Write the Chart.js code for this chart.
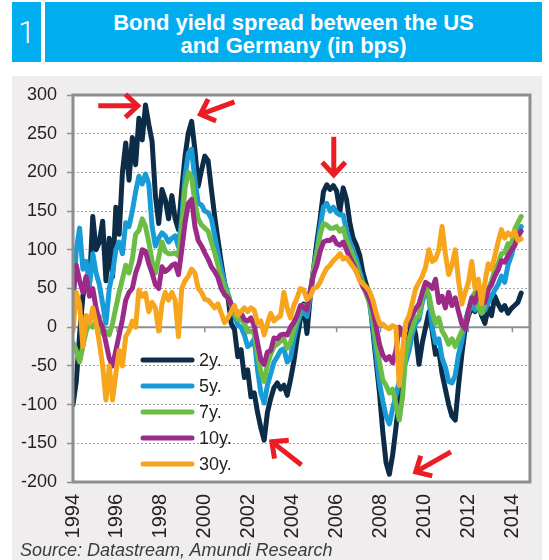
<!DOCTYPE html>
<html>
<head>
<meta charset="utf-8">
<title>Bond yield spread between the US and Germany</title>
<script src="https://cdn.jsdelivr.net/npm/chart.js@4.4.0/dist/chart.umd.min.js"></script>
<style>
  html, body { margin: 0; padding: 0; background: #fff; }
  body { width: 549px; height: 560px; position: relative; overflow: hidden; font-family: "Liberation Sans", Arial, sans-serif; }
  .hdr { position: absolute; top: 2px; height: 60px; background: #00aeef; color: #fff; }
  #num { left: 12px; width: 29px; font-family: Roboto, "Liberation Sans", sans-serif; font-weight: 300; font-size: 31px; line-height: 62px; text-align: center; }
  #title { left: 45px; width: 497px; font-weight: bold; font-size: 22px; line-height: 23px; text-align: center; box-sizing: border-box; padding-top: 9px; }
  #panel { position: absolute; left: 12px; top: 76px; width: 530px; height: 484px; background: #efedee; }
  #chart { position: absolute; left: 0; top: 0; }
  #source { position: absolute; left: 20px; top: 540px; font-style: italic; font-size: 18px; line-height: 20px; color: #3c3c3c; white-space: nowrap; }
</style>
</head>
<body>
<div class="hdr" id="num">1</div>
<div class="hdr" id="title">Bond yield spread between the US<br>and Germany (in bps)</div>
<div id="panel"></div>
<canvas id="chart" width="549" height="560"></canvas>
<div id="source">Source: Datastream, Amundi Research</div>
<script>
// spreads in bps, one reading every 0.15 year starting Jan 1994
const startYear = 1994;
const stepYears = 0.15;

const seriesNames = ['2y.', '5y.', '7y.', '10y.', '30y.'];
const seriesColours = ['#0c2c48', '#189bd6', '#6cbd45', '#9c2a89', '#f6a51c'];
const yearTicks = [1994, 1996, 1998, 2000, 2002, 2004, 2006, 2008, 2010, 2012, 2014];

const y2 = [
  -100, -70, -10, 40, 65, 55, 143, 100, 110, 137, 60, 115, 65, 155, 120, 200, 238, 190, 245, 210, 270, 242, 287, 262, 240, 170, 134, 178,
  165, 140, 170, 140, 126, 178, 221, 251, 266, 229, 182, 203, 221, 215, 178, 143, 113, 83, 57, 40, 5, -3, -38, -29, -65, -55, -90,
  -85, -110, -130, -146, -110, -92, -78, -72, -80, -75, -88, -68, -45, -15, 10, 30, -8, 40, 75, 110, 140, 175, 184, 178, 183, 176, 150,
  180, 165, 135, 115, 106, 93, 70, 55, 42, -5, -45, -85, -135, -175, -190, -165, -130, -90, -62, -38, -10, 10, -10, -48, -20, 0, 20,
  -5, -35, -30, -60, -80, -100, -115, -120, -75, -35, -2, 15, 25, 20, 30, 15, 5, 25, 15, 40, 30, 22, 28, 18, 24, 28, 32, 44
];
const y5 = [
  30, 100, 128, 75, 85, 55, 95, 70, 55, 30, 5, 50, 70, 100, 110, 95, 135, 130, 150, 175, 195, 185, 198, 185, 130, 105, 115, 122,
  118, 110, 115, 118, 104, 140, 195, 225, 230, 190, 160, 158, 150, 148, 140, 118, 96, 75, 57, 44, 30, 15, 3, 0, -10, -25, -22,
  -15, -55, -85, -98, -75, -60, -45, -38, -30, -28, -45, -40, -15, 3, 16, 20, 14, 40, 75, 100, 130, 155, 160, 150, 155, 148, 145,
  145, 125, 110, 98, 88, 72, 58, 46, 30, 0, -35, -72, -95, -115, -125, -105, -88, -70, -57, -45, -30, -8, 5, 10, 32, 48, 38,
  0, -20, -15, -40, -52, -70, -72, -62, -35, -18, 8, 22, 30, 22, 28, 30, 22, 32, 40, 48, 55, 66, 58, 80, 92, 108, 122, 130
];
const y7 = [
  -20, -30, -45, -25, -5, 5, 0, 8, 14, -8, -5, -10, 5, 25, 45, 62, 80, 70, 88, 120, 125, 140, 130, 110, 85, 70, 90, 110,
  98, 95, 95, 96, 92, 130, 180, 200, 195, 160, 140, 132, 128, 124, 110, 96, 80, 64, 52, 42, 28, 18, 10, 10, 5, -6, -5,
  -8, -35, -58, -70, -48, -35, -25, -22, -18, -15, -27, -20, -3, 10, 25, 28, 22, 45, 75, 95, 120, 134, 132, 128, 128, 130, 124,
  128, 112, 102, 92, 80, 66, 55, 42, 32, 10, -20, -45, -68, -75, -85, -80, -100, -120, -90, -35, -15, 0, 12, 15, 38, 52, 42,
  20, 5, 12, -5, -12, -22, -15, -25, -15, -5, 5, 18, 38, 45, 25, 18, 30, 48, 60, 74, 82, 95, 96, 108, 105, 126, 135, 143
];
const y10 = [
  40, 80, 60, 45, 65, 40, 50, 25, 8, 0, -20, -40, -50, -30, -10, 10, 35, 45, 50, 70, 82, 100, 98, 82, 70, 55, 50, 78,
  72, 75, 80, 82, 68, 100, 135, 160, 165, 130, 112, 105, 96, 88, 78, 72, 64, 50, 42, 38, 30, 22, 20, 18, 10, 8, 12,
  2, -20, -42, -48, -32, -30, -14, -15, -10, -9, -10, 0, 6, 15, 28, 26, 22, 48, 68, 80, 98, 110, 112, 112, 116, 108, 106,
  110, 100, 90, 82, 72, 62, 52, 46, 36, 22, 0, -22, -36, -42, -38, -46, -30, 0, -10, 0, 8, 16, 24, 30, 45, 58, 55,
  50, 62, 32, 40, 25, 45, 28, 38, 20, 4, -2, 22, 38, 32, 46, 34, 32, 48, 55, 66, 74, 86, 84, 92, 100, 105, 117, 124
];
const y30 = [
  -5, 45, 30, -25, 15, 5, 25, 5, -20, -50, -94, -50, -94, -60, -30, -50, -12, -5, 8, 0, 48, 40, 44, 20, 32, 25, -5, 30,
  45, 35, 45, 35, -12, 50, 60, 66, 75, 70, 50, 45, 36, 35, 30, 25, 30, 18, 6, 12, 20, 28, 15, 20, 25, 20, 25,
  22, 5, 8, -10, 5, 18, 8, 12, 15, 45, 25, 12, 28, 38, 50, 48, 36, 40, 50, 52, 58, 68, 76, 80, 86, 90, 95,
  88, 90, 84, 78, 72, 60, 56, 52, 46, 35, 18, 5, 4, 0, -2, 2, 0, -75, -30, 6, 15, 32, 50, 58, 66, 78, 100,
  85, 88, 100, 130, 95, 68, 80, 100, 60, 30, 45, 58, 85, 50, 62, 30, 58, 82, 75, 92, 110, 126, 115, 122, 118, 124, 112, 114
];

// red arrows, in (year, bps)
const arrows = [
  { from: [1995.15, 286], to: [1996.95, 286] },
  { from: [2001.35, 291], to: [1999.8, 275] },
  { from: [2005.87, 246], to: [2005.87, 197] },
  { from: [2004.4, -178], to: [2003.05, -148] },
  { from: [2011.2, -161], to: [2009.6, -187] }
];

const FONT = '"Liberation Sans", Arial, sans-serif';

function toPoints(arr) {
  return arr.map(function (v, i) { return { x: startYear + i * stepYears, y: v }; });
}

const allSeries = [y2, y5, y7, y10, y30];

const decorations = {
  id: 'decorations',
  beforeDraw(chart) {
    const a = chart.chartArea, ctx = chart.ctx;
    ctx.save();
    ctx.fillStyle = '#ffffff';
    ctx.fillRect(a.left, a.top, a.right - a.left, a.bottom - a.top);
    ctx.restore();
  },
  beforeDatasetsDraw(chart) {
    // zero line with year ticks
    const a = chart.chartArea, ctx = chart.ctx;
    const xs = chart.scales.x, ys = chart.scales.y;
    const y0 = ys.getPixelForValue(0);
    ctx.save();
    ctx.strokeStyle = '#8c8e90';
    ctx.lineWidth = 2;
    ctx.beginPath();
    ctx.moveTo(a.left, y0);
    ctx.lineTo(a.right, y0);
    ctx.stroke();
    ctx.lineWidth = 1.5;
    yearTicks.forEach(function (yr) {
      const px = xs.getPixelForValue(yr);
      ctx.beginPath();
      ctx.moveTo(px, y0);
      ctx.lineTo(px, y0 + 5);
      ctx.stroke();
    });
    ctx.restore();
  },
  afterDatasetsDraw(chart) {
    const a = chart.chartArea, ctx = chart.ctx;
    const xs = chart.scales.x, ys = chart.scales.y;
    ctx.save();

    // frame
    ctx.strokeStyle = '#8c8e90';
    ctx.lineWidth = 3;
    ctx.strokeRect(a.left, a.top, a.right - a.left, a.bottom - a.top);

    // legend inside the plot
    ctx.font = '18px ' + FONT;
    ctx.textBaseline = 'middle';
    ctx.textAlign = 'left';
    ctx.lineCap = 'round';
    seriesNames.forEach(function (name, i) {
      const ly = a.top + 265 + 26 * i;
      ctx.strokeStyle = seriesColours[i];
      ctx.lineWidth = 5;
      ctx.beginPath();
      ctx.moveTo(a.left + 70, ly);
      ctx.lineTo(a.left + 119, ly);
      ctx.stroke();
      ctx.fillStyle = '#231f20';
      ctx.fillText(name, a.left + 126, ly + 1);
    });

    // arrows
    ctx.strokeStyle = '#ec1c24';
    ctx.lineWidth = 5;
    ctx.lineCap = 'butt';
    ctx.lineJoin = 'miter';
    arrows.forEach(function (ar) {
      const x1 = xs.getPixelForValue(ar.from[0]), y1 = ys.getPixelForValue(ar.from[1]);
      const x2 = xs.getPixelForValue(ar.to[0]), y2p = ys.getPixelForValue(ar.to[1]);
      const ang = Math.atan2(y2p - y1, x2 - x1);
      ctx.beginPath();
      ctx.moveTo(x1, y1);
      ctx.lineTo(x2 - 3 * Math.cos(ang), y2p - 3 * Math.sin(ang));
      ctx.stroke();
      const hl = 17, spread = 0.75;
      ctx.beginPath();
      ctx.moveTo(x2 - hl * Math.cos(ang - spread), y2p - hl * Math.sin(ang - spread));
      ctx.lineTo(x2, y2p);
      ctx.lineTo(x2 - hl * Math.cos(ang + spread), y2p - hl * Math.sin(ang + spread));
      ctx.stroke();
    });
    ctx.restore();
  }
};

const ctx = document.getElementById('chart').getContext('2d');
new Chart(ctx, {
  type: 'line',
  data: {
    datasets: allSeries.map(function (arr, i) {
      return {
        label: seriesNames[i],
        data: toPoints(arr),
        borderColor: seriesColours[i],
        backgroundColor: seriesColours[i],
        borderWidth: 5,
        pointRadius: 0,
        tension: 0,
        fill: false,
        borderJoinStyle: 'round',
        borderCapStyle: 'round',
        order: 5 - i   // 30y drawn on top
      };
    })
  },
  options: {
    responsive: false,
    animation: false,
    events: [],
    layout: { padding: { top: 95, right: 16, bottom: 0, left: 0 } },
    plugins: {
      legend: { display: false },
      tooltip: { enabled: false },
      title: { display: false }
    },
    scales: {
      x: {
        type: 'linear',
        position: 'bottom',
        min: 1994,
        max: 2014.8,
        afterBuildTicks: function (scale) {
          scale.ticks = yearTicks.map(function (v) { return { value: v }; });
        },
        afterFit: function (scale) { scale.height = 78; },
        ticks: {
          autoSkip: false,
          minRotation: 90,
          maxRotation: 90,
          padding: 12,
          color: '#231f20',
          font: { family: FONT, size: 20 },
          callback: function (v) { return String(v); }
        },
        grid: { display: false, drawTicks: false },
        border: { display: false }
      },
      y: {
        min: -200,
        max: 300,
        afterFit: function (scale) { scale.width = 73; },
        ticks: {
          stepSize: 50,
          padding: 10,
          color: '#231f20',
          font: { family: FONT, size: 18 }
        },
        grid: {
          color: '#a4a6a8',
          lineWidth: 1,
          drawTicks: true,
          tickLength: 6,
          tickColor: '#8c8e90',
          tickWidth: 1.5
        },
        border: { display: false, dash: [2, 2] }
      }
    }
  },
  plugins: [decorations]
});
</script>
</body>
</html>
